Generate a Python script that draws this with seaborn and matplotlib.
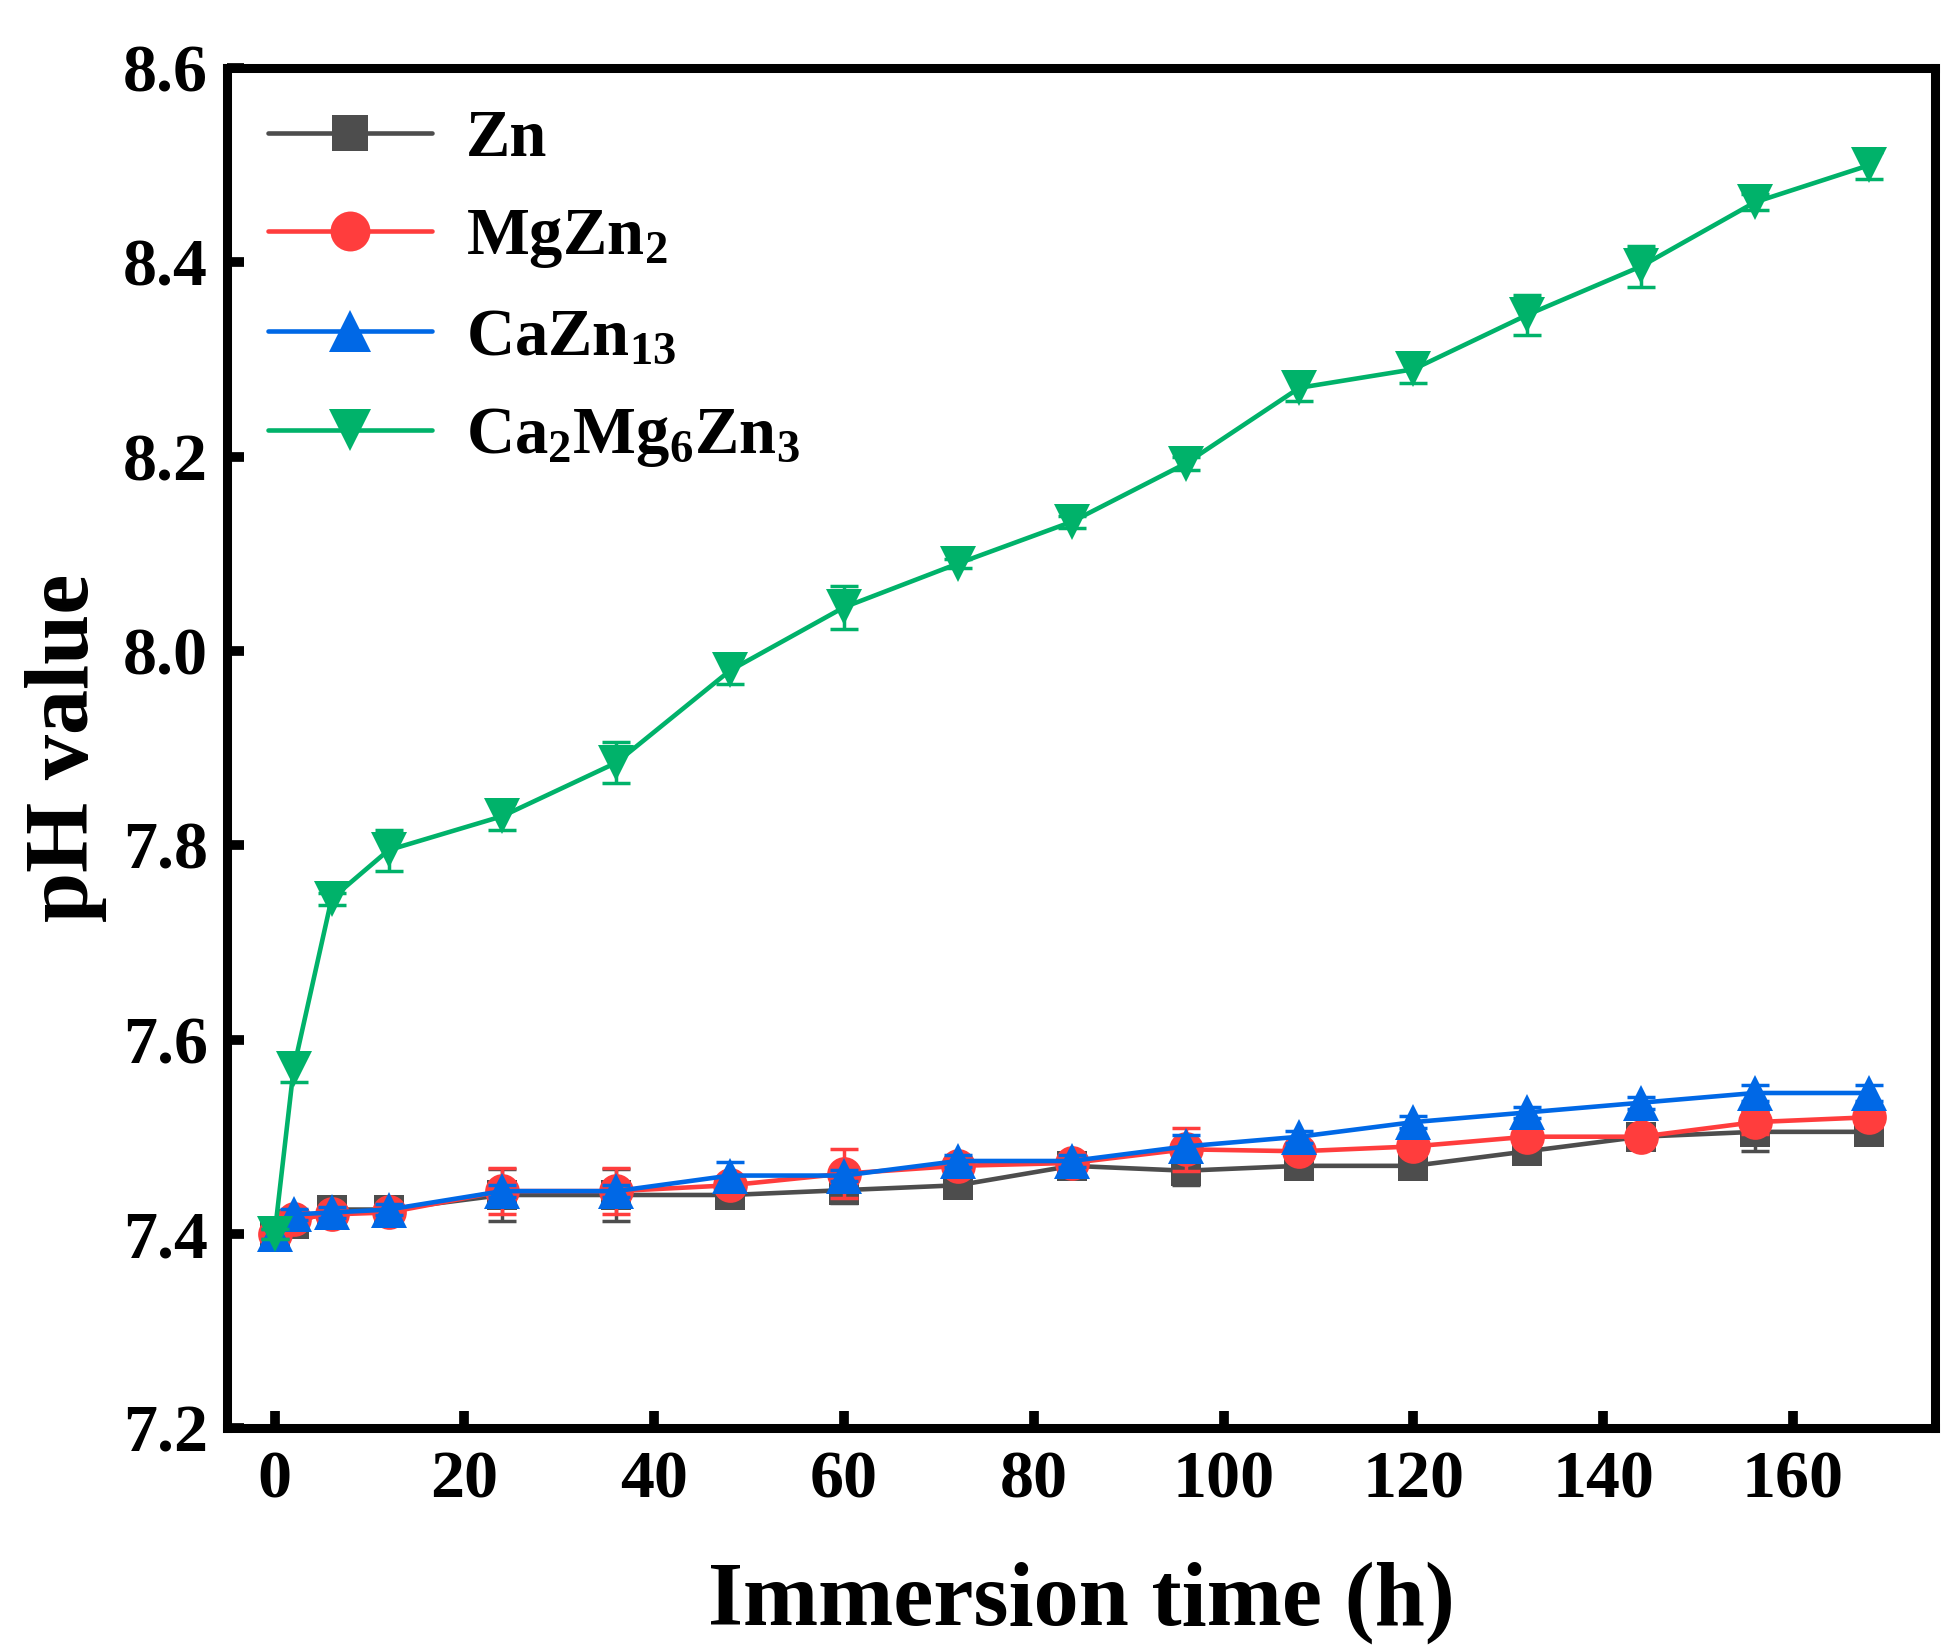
import numpy as np
import seaborn as sns
import matplotlib.pyplot as plt
from matplotlib.ticker import FormatStrFormatter

# immersion time points (h)
time_h = [0, 2, 6, 12, 24, 36, 48, 60, 72, 84, 96, 108, 120, 132, 144, 156, 168]

# pH values
ph_zn = [7.40, 7.41, 7.425, 7.425, 7.44, 7.44, 7.44, 7.445, 7.45, 7.47, 7.465, 7.47,
         7.47, 7.485, 7.50, 7.505, 7.505]
ph_mgzn2 = [7.40, 7.415, 7.42, 7.422, 7.444, 7.444, 7.45, 7.462, 7.47, 7.473, 7.487, 7.485,
            7.49, 7.50, 7.50, 7.515, 7.52]
ph_cazn13 = [7.40, 7.42, 7.422, 7.425, 7.444, 7.444, 7.46, 7.46, 7.475, 7.475, 7.49, 7.50,
             7.515, 7.525, 7.535, 7.545, 7.545]
ph_camgzn = [7.40, 7.57, 7.745, 7.795, 7.83, 7.885, 7.98, 8.045, 8.09, 8.133, 8.193, 8.271,
             8.29, 8.346, 8.396, 8.462, 8.50]

# standard deviations (error bars)
err_zn = [0.005, 0.005, 0.012, 0.005, 0.027, 0.027, 0.005, 0.013, 0.005, 0.005, 0.015, 0.005,
          0.005, 0.01, 0.005, 0.02, 0.01]
err_mgzn2 = [0.005, 0.008, 0.008, 0.005, 0.024, 0.024, 0.008, 0.025, 0.005, 0.005, 0.022, 0.008,
             0.005, 0.005, 0.005, 0.012, 0.01]
err_cazn13 = [0.005, 0.006, 0.006, 0.006, 0.006, 0.006, 0.014, 0.006, 0.006, 0.006, 0.012, 0.006,
              0.006, 0.006, 0.006, 0.008, 0.008]
err_camgzn = [0.005, 0.014, 0.006, 0.021, 0.014, 0.021, 0.014, 0.022, 0.005, 0.006, 0.007, 0.014,
              0.014, 0.021, 0.021, 0.008, 0.014]

labels = ['Zn', 'MgZn$_{2}$', 'CaZn$_{13}$', 'Ca$_{2}$Mg$_{6}$Zn$_{3}$']
colors = ['#4d4d4d', '#ff3d3d', '#0068e6', '#00b26a']
markers = ['s', 'o', '^', 'v']
msizes = [22, 25, 26, 26]

sns.set_theme(style='ticks')
plt.rcParams['font.family'] = ['Liberation Serif', 'DejaVu Serif']
plt.rcParams['font.weight'] = 'bold'
plt.rcParams['mathtext.fontset'] = 'custom'
plt.rcParams['mathtext.rm'] = 'Liberation Serif:bold'
plt.rcParams['mathtext.bf'] = 'Liberation Serif:bold'
plt.rcParams['mathtext.it'] = 'Liberation Serif:bold:italic'

fig = plt.figure(figsize=(19.42, 16.51), dpi=100)
ax = fig.add_axes([0.117, 0.135, 0.8795, 0.8237])

all_ph = [ph_zn, ph_mgzn2, ph_cazn13, ph_camgzn]
all_err = [err_zn, err_mgzn2, err_cazn13, err_camgzn]

for i in range(4):
    ax.errorbar(time_h, all_ph[i], yerr=all_err[i], fmt='none', ecolor=colors[i],
                elinewidth=2.5, capsize=10, capthick=2.5, zorder=2 + i * 2)
    sns.lineplot(x=time_h, y=all_ph[i], color=colors[i], marker=markers[i],
                 markersize=msizes[i], markeredgewidth=0, linewidth=3.3,
                 label=labels[i], ax=ax, zorder=3 + i * 2)

ax.set_xlim(-5, 175)
ax.set_ylim(7.2, 8.6)
ax.set_xticks([0, 20, 40, 60, 80, 100, 120, 140, 160])
ax.set_yticks([7.2, 7.4, 7.6, 7.8, 8.0, 8.2, 8.4, 8.6])
ax.yaxis.set_major_formatter(FormatStrFormatter('%.1f'))

ax.tick_params(axis='both', direction='in', width=7, length=12, labelsize=49,
               color='black', labelcolor='black')
ax.tick_params(axis='x', pad=16)
ax.tick_params(axis='y', pad=14)
for s in ax.spines.values():
    s.set_linewidth(6.5)
    s.set_color('black')

ax.set_xlabel('Immersion time (h)', fontsize=65, fontweight='bold', color='black', labelpad=36)
ax.set_ylabel('pH value', fontsize=65, fontweight='bold', color='black', labelpad=11)

ax.legend(loc='upper left', bbox_to_anchor=(0.024, 0.970), frameon=False, fontsize=48,
          handlelength=2.46, handletextpad=0.5, labelspacing=0.56, borderpad=0,
          borderaxespad=0, markerscale=1.15, labelcolor='black')

fig.savefig('out.png', dpi=100)
